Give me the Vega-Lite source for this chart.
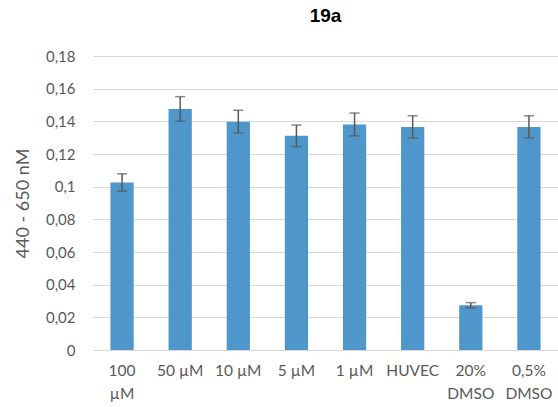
{
  "$schema": "https://vega.github.io/schema/vega-lite/v6.json",
  "width": 465,
  "height": 294,
  "autosize": {"type": "none"},
  "padding": {"left": 93, "top": 56, "right": 0, "bottom": 57},
  "background": "white",
  "title": {"text": "19a", "font": "Liberation Sans", "fontSize": 19, "fontWeight": "bold", "color": "#000000", "anchor": "middle", "offset": 23},
  "config": {
    "view": {"stroke": null},
    "axisY": {
      "titleFont": "Lato", "titleFontSize": 18, "titleFontWeight": "normal", "titleColor": "#595959", "titlePadding": 13,
      "labelFont": "Lato", "labelFontSize": 15, "labelColor": "#595959", "labelPadding": 18,
      "labelOverlap": false, "labelBound": false,
      "ticks": false, "domain": false,
      "grid": true, "gridColor": "#D9D9D9", "gridWidth": 1
    }
  },
  "data": {"values": [
    {"cond": "100|µM", "value": 0.1026, "err": 0.0053},
    {"cond": "50 µM", "value": 0.1476, "err": 0.0075},
    {"cond": "10 µM", "value": 0.1398, "err": 0.007},
    {"cond": "5 µM", "value": 0.1311, "err": 0.0066},
    {"cond": "1 µM", "value": 0.1381, "err": 0.007},
    {"cond": "HUVEC", "value": 0.1366, "err": 0.0068},
    {"cond": "20%|DMSO", "value": 0.0274, "err": 0.0016},
    {"cond": "0,5%|DMSO", "value": 0.1366, "err": 0.0068}
  ]},
  "transform": [
    {"calculate": "datum.value - datum.err", "as": "lo"},
    {"calculate": "datum.value + datum.err", "as": "hi"}
  ],
  "encoding": {
    "x": {
      "field": "cond", "type": "nominal", "sort": null,
      "scale": {"paddingInner": 0.6, "paddingOuter": 0.3},
      "axis": {
        "title": null, "labelAngle": 0, "labelExpr": "split(datum.value, '|')",
        "labelFont": "Lato", "labelFontSize": 15.5, "labelColor": "#595959",
        "labelPadding": 13, "labelLineHeight": 23, "ticks": false, "domain": false, "labelOverlap": false
      }
    }
  },
  "layer": [
    {
      "mark": {"type": "bar", "color": "#4F97CA"},
      "encoding": {
        "y": {
          "field": "value", "type": "quantitative",
          "scale": {"domain": [0, 0.18], "nice": false},
          "axis": {"title": "440 - 650 nM", "values": [0, 0.02, 0.04, 0.06, 0.08, 0.1, 0.12, 0.14, 0.16, 0.18], "labelExpr": "replace(format(datum.value, '~g'), '.', ',')"}
        }
      }
    },
    {
      "mark": {"type": "rule", "color": "#595959", "strokeWidth": 1.5},
      "encoding": {
        "y": {"field": "lo", "type": "quantitative", "axis": {"title": "440 - 650 nM", "values": [0, 0.02, 0.04, 0.06, 0.08, 0.1, 0.12, 0.14, 0.16, 0.18], "labelExpr": "replace(format(datum.value, '~g'), '.', ',')"}},
        "y2": {"field": "hi"}
      }
    },
    {
      "mark": {"type": "tick", "color": "#595959", "size": 10, "thickness": 1.5},
      "encoding": {"y": {"field": "lo", "type": "quantitative", "axis": {"title": "440 - 650 nM", "values": [0, 0.02, 0.04, 0.06, 0.08, 0.1, 0.12, 0.14, 0.16, 0.18], "labelExpr": "replace(format(datum.value, '~g'), '.', ',')"}}}
    },
    {
      "mark": {"type": "tick", "color": "#595959", "size": 10, "thickness": 1.5},
      "encoding": {"y": {"field": "hi", "type": "quantitative", "axis": {"title": "440 - 650 nM", "values": [0, 0.02, 0.04, 0.06, 0.08, 0.1, 0.12, 0.14, 0.16, 0.18], "labelExpr": "replace(format(datum.value, '~g'), '.', ',')"}}}
    }
  ]
}
